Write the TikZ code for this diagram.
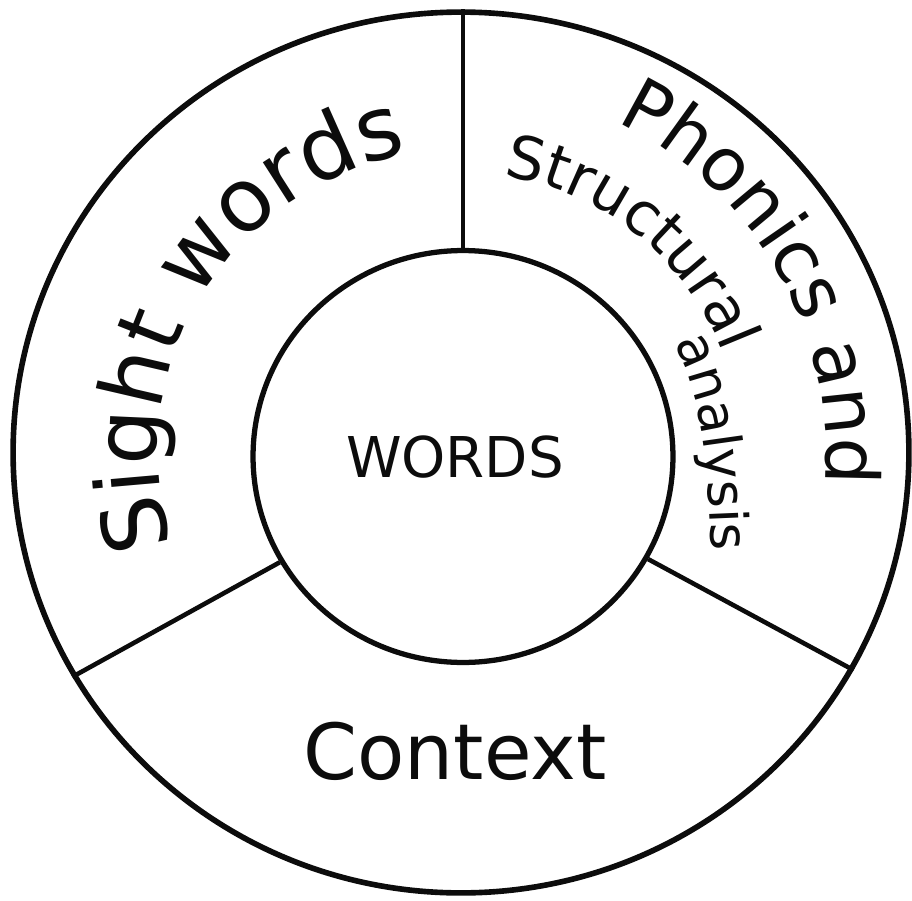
\documentclass[tikz,border=0pt]{standalone}
\usepackage{fontspec}
\setmainfont{DejaVu Sans}
\usetikzlibrary{shapes.geometric,decorations.text}
\definecolor{ink}{RGB}{12,12,12}

\begin{document}
\begin{tikzpicture}[x=0.02cm, y=0.02cm,
    ring/.style={ellipse, draw=ink, line width=3.2pt, inner sep=0pt},
    divider/.style={draw=ink, line width=2.6pt},
    curved/.style={decorate, decoration={text along path, text align=center, text color=ink}}
  ]
  \useasboundingbox (-461,-447.5) rectangle (451,452.5);
  \node[ring, minimum width=17.92cm, minimum height=17.62cm] (outer) at (0,0) {};
  \node[ring, minimum width=8.4cm, minimum height=8.24cm, line width=3pt] (inner) at (2,-4) {};
  \node[text=ink, font=\fontsize{32}{38}\selectfont] (core) at (-6,-4.5) {WORDS};
  \node[text=ink, font=\fontsize{44}{52}\selectfont] (context) at (-6,-298.5) {Context};
  \draw[divider] (inner.90) -- (inner.90 |- outer.north);
  \draw[divider] (inner.210) -- (outer.210);
  \draw[divider] (inner.331) -- (outer.331);
  \path[curved, decoration={text={|\fontsize{50}{60}\selectfont|Sight words}}]
    (210:303) arc[start angle=210, end angle=88, radius=303];
  \path[curved, decoration={text={|\fontsize{42}{50}\selectfont|Phonics and}}]
    (80:365) arc[start angle=80, end angle=-20, radius=365];
  \path[curved, decoration={text={|\fontsize{34}{42}\selectfont|Structural}}]
    (96:280) arc[start angle=96, end angle=6, radius=280];
  \path[curved, decoration={text={|\fontsize{30}{36}\selectfont|analysis}}]
    (196,136) .. controls (238,78) and (250,5) .. (250,-130);
\end{tikzpicture}
\end{document}
